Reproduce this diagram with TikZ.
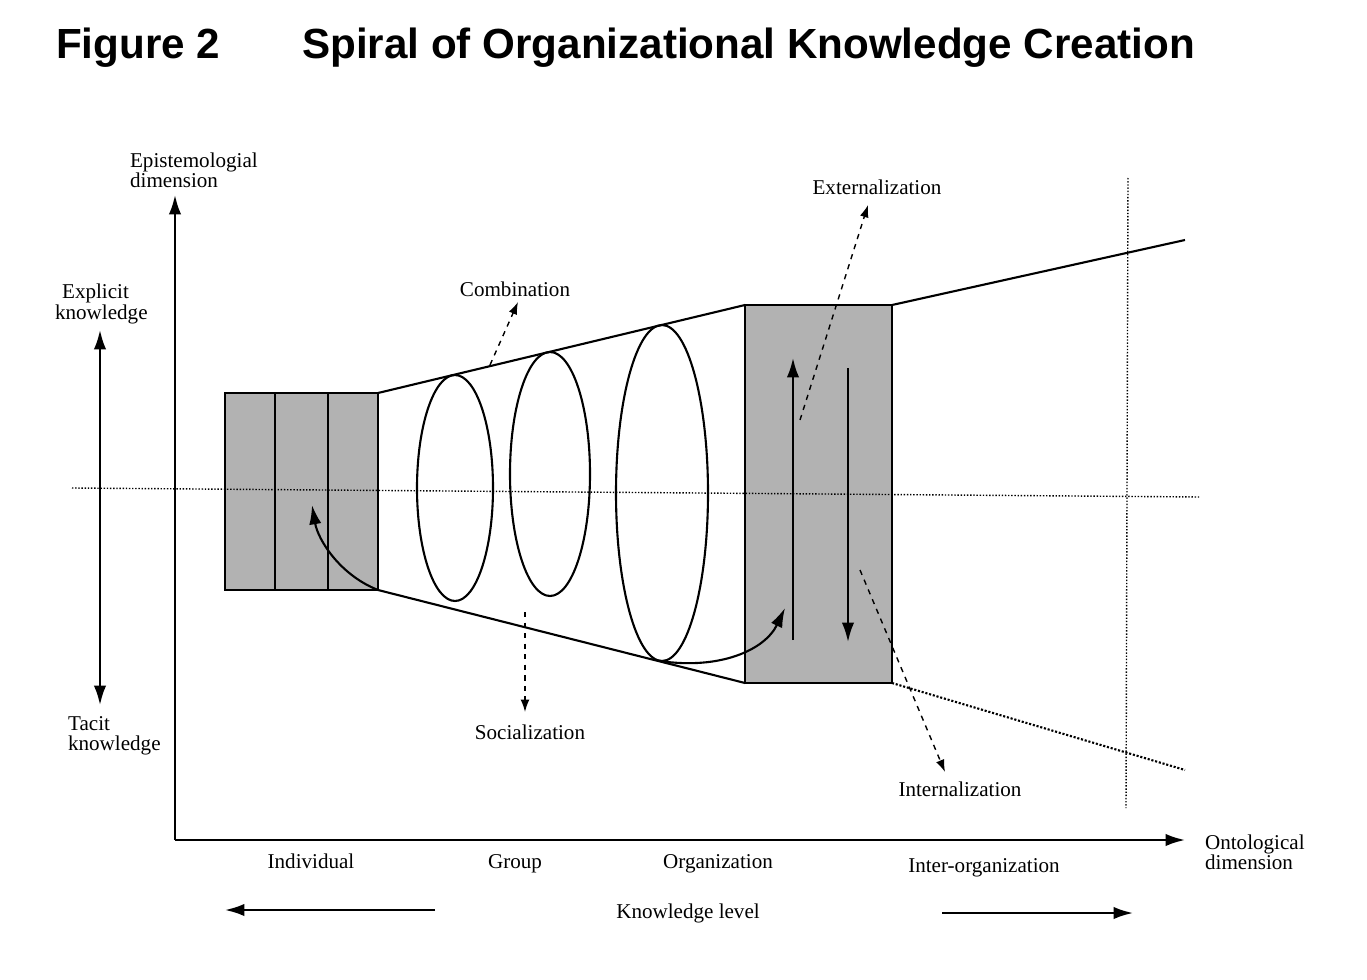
\documentclass[tikz,border=0pt]{standalone}
\usepackage{fontspec}
\setmainfont{Liberation Serif}
\newfontfamily\titlefont{Liberation Sans}
\usetikzlibrary{arrows.meta}
\tikzset{
  lbl/.style={font=\fontsize{12}{11.5}\selectfont,inner sep=1pt,align=left},
  dasharr/.style={dashed,thick,-{Latex[length=7pt,width=5pt]}},
  solarr/.style={very thick,-{Latex[length=11pt,width=7pt]}},
  knowbox/.style={fill=gray!60,draw=black,very thick}
}
\begin{document}
\begin{tikzpicture}[x=0.02cm,y=-0.02cm]
    \useasboundingbox (0,0) rectangle (1367,980);
    % title
    \node[anchor=west,font=\titlefont\bfseries\fontsize{24}{28}\selectfont] (fig) at (50,48) {Figure 2};
    \node[anchor=west,font=\titlefont\bfseries\fontsize{24}{28}\selectfont] (title) at (296,48) {Spiral of Organizational Knowledge Creation};
    % axes
    \coordinate (o) at (175,840);
    \draw[solarr] (o) -- (175,195) coordinate (ytop);
    \draw[solarr] (o) -- (1185,840) coordinate (xend);
    \node[lbl,anchor=south west] (epi) at (128,190) {Epistemologial\\dimension};
    \node[lbl,anchor=west] (onto) at (1203,852) {Ontological\\dimension};
    % explicit / tacit
    \node[lbl,anchor=west] (expl) at (53,304) {\hspace*{4pt}Explicit\\knowledge};
    \node[lbl,anchor=west] (tacit) at (66,736) {Tacit\\knowledge};
    \draw[solarr,{Latex[length=11pt,width=7pt]}-{Latex[length=11pt,width=7pt]}] (100,330) -- (100,705);
    % boxes
    \draw[knowbox] (225,393) rectangle (378,590);
    \draw[very thick] (275,393) -- (275,590);
    \draw[very thick] (328,393) -- (328,590);
    \draw[knowbox] (745,305) rectangle (892,683);
    % dotted guides
    \draw[densely dotted,thick] (72,488) -- (1200,497);
    \draw[densely dotted,thick] (1128,178) -- (1126,808);
    % cone
    \draw[very thick] (378,393) -- (745,305);
    \draw[very thick] (378,590) -- (745,683);
    \draw[very thick] (892,305) -- (1185,240);
    \draw[densely dotted,very thick] (892,683) -- (1185,770);
    % spiral
    \draw[very thick] (455,488) ellipse (38 and 113);
    \draw[very thick] (550,474) ellipse (40 and 122);
    \draw[very thick] (662,493) ellipse (46 and 168);
    \draw[solarr] (378,590) .. controls (340,575) and (318,540) .. (312,505);
    \draw[solarr] (660,661) .. controls (720,670) and (765,650) .. (785,608);
    % vertical arrows in box
    \draw[solarr] (793,640) -- (793,358);
    \draw[solarr] (848,368) -- (848,642);
    % mode labels
    \node[lbl] (comb) at (515,289) {Combination};
    \node[lbl] (ext) at (877,187) {Externalization};
    \node[lbl] (soc) at (530,732) {Socialization};
    \node[lbl] (int) at (960,789) {Internalization};
    \draw[dasharr] (490,365) -- (518,302);
    \draw[dasharr] (800,420) -- (868,205);
    \draw[dasharr] (525,612) -- (525,712);
    \draw[dasharr] (860,570) -- (945,772);
    % knowledge levels
    \node[lbl] (ind) at (311,861) {Individual};
    \node[lbl] (grp) at (515,864) {Group};
    \node[lbl] (org) at (718,864) {Organization};
    \node[lbl] (inter) at (984,868) {Inter-organization};
    \node[lbl] (klev) at (688,913) {Knowledge level};
    \draw[solarr] (435,910) -- (225,910);
    \draw[solarr] (942,913) -- (1133,913);
\end{tikzpicture}
\end{document}
